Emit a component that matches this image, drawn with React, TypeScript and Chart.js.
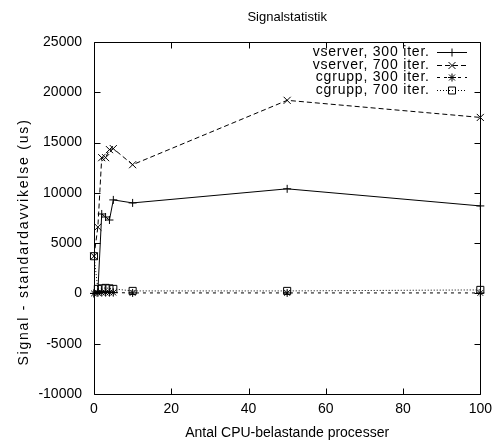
import React, { useEffect, useRef } from 'react';
import { Chart, registerables } from 'chart.js';

Chart.register(...registerables);

const titleText = 'Signalstatistik';
const xAxisLabel = 'Antal CPU-belastande processer';
const yAxisLabel = 'Signal - standardavvikelse (us)';

const xValues = [0, 1, 2, 3, 4, 5, 10, 50, 100];
const vserver300 = [0, 200, 7900, 7600, 7300, 9300, 9000, 10400, 8700];
const vserver700 = [3700, 6600, 13500, 13500, 14300, 14400, 12800, 19200, 17500];
const cgrupp300 = [0, 50, 80, 80, 80, 80, 50, 50, 50];
const cgrupp700 = [3700, 450, 500, 550, 500, 450, 250, 250, 350];

const seriesNames = ['vserver, 300 iter.', 'vserver, 700 iter.', 'cgrupp, 300 iter.', 'cgrupp, 700 iter.'];

const xTicks = [0, 20, 40, 60, 80, 100];
const yTicks = [-10000, -5000, 0, 5000, 10000, 15000, 20000, 25000];

const FONT_FAMILY = '"Liberation Sans", Arial, Helvetica, sans-serif';
const FONT = { family: FONT_FAMILY, size: 14 };

type Marker = 'cross' | 'crossRot' | 'star' | 'rect';

const styles: { dash: number[]; marker: Marker; radius: number }[] = [
  { dash: [], marker: 'cross', radius: 4 },
  { dash: [5, 3], marker: 'crossRot', radius: 5 },
  { dash: [3, 4], marker: 'star', radius: 4 },
  { dash: [1, 2], marker: 'rect', radius: 5 },
];

function drawMarker(ctx: CanvasRenderingContext2D, m: Marker, x: number, y: number) {
  ctx.save();
  ctx.setLineDash([]);
  ctx.lineWidth = 1;
  ctx.strokeStyle = '#000';
  ctx.beginPath();
  if (m === 'cross' || m === 'star') {
    ctx.moveTo(x - 4, y);
    ctx.lineTo(x + 4, y);
    ctx.moveTo(x, y - 4);
    ctx.lineTo(x, y + 4);
  }
  if (m === 'crossRot' || m === 'star') {
    const d = m === 'star' ? 3 : 3.5;
    ctx.moveTo(x - d, y - d);
    ctx.lineTo(x + d, y + d);
    ctx.moveTo(x - d, y + d);
    ctx.lineTo(x + d, y - d);
  }
  if (m === 'rect') {
    ctx.rect(x - 3.5, y - 3.5, 7, 7);
  }
  ctx.stroke();
  ctx.restore();
}

const framePlugin = {
  id: 'gnuplotFrame',
  beforeDatasetsDraw(chart: any) {
    const { ctx, chartArea } = chart;
    const l = Math.round(chartArea.left) + 0.5;
    const r = Math.round(chartArea.right) + 0.5;
    const t = Math.round(chartArea.top) + 0.5;
    const b = Math.round(chartArea.bottom) + 0.5;
    ctx.save();
    ctx.strokeStyle = '#000';
    ctx.lineWidth = 1;
    ctx.setLineDash([]);
    ctx.beginPath();
    ctx.rect(l, t, r - l, b - t);
    const xs = chart.scales.x;
    const ys = chart.scales.y;
    const tl = 6;
    xTicks.forEach((v) => {
      const px = Math.round(xs.getPixelForValue(v)) + 0.5;
      ctx.moveTo(px, b);
      ctx.lineTo(px, b - tl);
      ctx.moveTo(px, t);
      ctx.lineTo(px, t + tl);
    });
    yTicks.forEach((v) => {
      const py = Math.round(ys.getPixelForValue(v)) + 0.5;
      ctx.moveTo(l, py);
      ctx.lineTo(l + tl, py);
      ctx.moveTo(r, py);
      ctx.lineTo(r - tl, py);
    });
    ctx.stroke();
    ctx.restore();
  },
  afterDraw(chart: any) {
    const { ctx, chartArea } = chart;
    ctx.save();
    ctx.fillStyle = '#000';
    ctx.font = `13px ${FONT_FAMILY}`;
    ctx.textAlign = 'center';
    ctx.textBaseline = 'middle';
    ctx.fillText(titleText, (chartArea.left + chartArea.right) / 2, 17);

    ctx.font = `14px ${FONT_FAMILY}`;
    // rotated y-axis label (wide letter spacing as in the reference)
    ctx.save();
    ctx.translate(24, 242);
    ctx.rotate(-Math.PI / 2);
    (ctx as any).letterSpacing = '1.8px';
    ctx.textAlign = 'center';
    ctx.textBaseline = 'middle';
    ctx.fillText(yAxisLabel, 0, 0);
    ctx.restore();

    // key
    const textRight = 429;
    const sampleL = 437;
    const sampleR = 467;
    const rowY0 = 52;
    const rowH = 12.7;
    seriesNames.forEach((name, i) => {
      const y = rowY0 + i * rowH;
      ctx.save();
      ctx.fillStyle = '#000';
      (ctx as any).letterSpacing = '0.8px';
      ctx.textAlign = 'right';
      ctx.textBaseline = 'middle';
      ctx.fillText(name, textRight + 0.8, y);
      ctx.restore();
      const yy = Math.round(y) + 0.5;
      ctx.beginPath();
      ctx.setLineDash(styles[i].dash);
      ctx.lineWidth = 1;
      ctx.strokeStyle = '#000';
      ctx.moveTo(sampleL, yy);
      ctx.lineTo(sampleR, yy);
      ctx.stroke();
      drawMarker(ctx, styles[i].marker, (sampleL + sampleR) / 2, yy);
    });
    ctx.restore();
  },
};

export default function App() {
  const canvasRef = useRef<HTMLCanvasElement | null>(null);

  useEffect(() => {
    const canvas = canvasRef.current;
    if (!canvas) return;
    const seriesValues = [vserver300, vserver700, cgrupp300, cgrupp700];
    const datasets = seriesValues.map((vals, i) => ({
      label: seriesNames[i],
      data: vals.map((v, j) => ({ x: xValues[j], y: v })),
      borderColor: '#000',
      backgroundColor: 'rgba(0,0,0,0)',
      borderWidth: 1,
      borderDash: styles[i].dash,
      pointStyle: styles[i].marker,
      pointRadius: styles[i].radius,
      pointBorderWidth: 1,
      pointBorderColor: '#000',
      pointBackgroundColor: 'rgba(0,0,0,0)',
      tension: 0,
      fill: false,
      clip: false as any,
    }));

    const chart = new Chart(canvas, {
      type: 'line',
      data: { datasets },
      options: {
        responsive: false,
        animation: false,
        events: [],
        layout: { padding: { top: 42, right: 15, bottom: 0, left: 0 } },
        plugins: {
          legend: { display: false },
          title: { display: false },
          tooltip: { enabled: false },
        },
        scales: {
          x: {
            type: 'linear',
            min: 0,
            max: 100,
            afterBuildTicks: (s: any) => {
              s.ticks = xTicks.map((v) => ({ value: v }));
            },
            afterFit: (s: any) => {
              s.height = 49;
            },
            grid: { display: false, drawTicks: false },
            border: { display: false },
            ticks: { font: FONT, color: '#000', padding: 7, maxRotation: 0, autoSkip: false },
            title: { display: true, text: xAxisLabel, font: FONT, color: '#000', padding: { top: 0, bottom: 1 } },
          },
          y: {
            type: 'linear',
            min: -10000,
            max: 25000,
            afterBuildTicks: (s: any) => {
              s.ticks = yTicks.map((v) => ({ value: v }));
            },
            afterFit: (s: any) => {
              s.width = 94;
            },
            grid: { display: false, drawTicks: false },
            border: { display: false },
            ticks: { font: FONT, color: '#000', padding: 12, autoSkip: false, callback: (v: any) => String(v) },
            title: { display: false },
          },
        },
      },
      plugins: [framePlugin],
    });
    return () => chart.destroy();
  }, []);

  return (
    <div style={{ position: 'absolute', left: 0, top: 0, width: 499, height: 443, background: '#fff' }}>
      <canvas ref={canvasRef} width={499} height={443} />
    </div>
  );
}
